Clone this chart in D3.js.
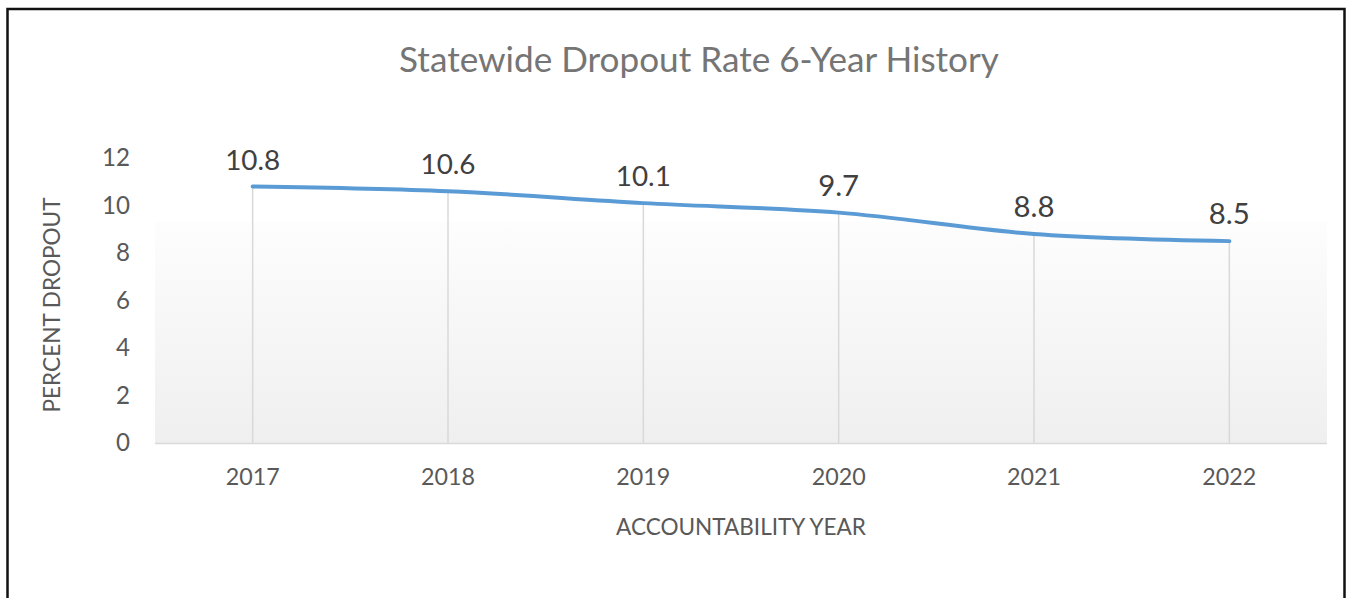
<!DOCTYPE html>
<html>
<head>
<meta charset="utf-8">
<script src="https://cdn.jsdelivr.net/npm/d3@7"></script>
<style>
  html, body { margin: 0; padding: 0; background: #fff; }
  svg { display: block; font-family: Lato, "Open Sans", sans-serif; }
</style>
</head>
<body>
<div id="chart"></div>
<script>
// chart data
const years = ["2017", "2018", "2019", "2020", "2021", "2022"];
const dropoutRates = [10.8, 10.6, 10.1, 9.7, 8.8, 8.5];
const yTicks = [0, 2, 4, 6, 8, 10, 12];
const chartTitle = "Statewide Dropout Rate 6-Year History";
const xTitle = "ACCOUNTABILITY YEAR";
const yTitle = "PERCENT DROPOUT";

const width = 1347, height = 598;
const plot = { left: 155, right: 1327, top: 158, bottom: 443 };

const svg = d3.select("#chart").append("svg")
  .attr("width", width)
  .attr("height", height);

// fit text to a target width by adjusting font size
function fitText(sel, targetWidth) {
  const node = sel.node();
  const fs = parseFloat(sel.attr("font-size"));
  const w = node.getComputedTextLength();
  if (w > 0) sel.attr("font-size", (fs * targetWidth / w).toFixed(2));
  return sel;
}

// outer frame
svg.append("rect")
  .attr("x", 7.5).attr("y", 9)
  .attr("width", 1337).attr("height", 600)
  .attr("fill", "none")
  .attr("stroke", "#111")
  .attr("stroke-width", 2.5);

const x = d3.scaleBand()
  .domain(years)
  .range([plot.left, plot.right])
  .padding(0);

const y = d3.scaleLinear()
  .domain([0, 12])
  .range([plot.bottom, plot.top]);

// plot area gradient
const defs = svg.append("defs");
const grad = defs.append("linearGradient")
  .attr("id", "plotGrad")
  .attr("x1", 0).attr("y1", 0).attr("x2", 0).attr("y2", 1);
grad.append("stop").attr("offset", "0%").attr("stop-color", "#fdfdfd");
grad.append("stop").attr("offset", "100%").attr("stop-color", "#efefef");

svg.append("rect")
  .attr("x", plot.left)
  .attr("y", 222)
  .attr("width", plot.right - plot.left)
  .attr("height", plot.bottom - 222)
  .attr("fill", "url(#plotGrad)");

const cx = d => x(d) + x.bandwidth() / 2;

// drop lines
svg.append("g")
  .selectAll("line")
  .data(years)
  .join("line")
  .attr("x1", d => cx(d)).attr("x2", d => cx(d))
  .attr("y1", (d, i) => y(dropoutRates[i]))
  .attr("y2", y(0))
  .attr("stroke", "#d9d9d9")
  .attr("stroke-width", 1.5);

// x axis line
svg.append("line")
  .attr("x1", plot.left).attr("x2", plot.right)
  .attr("y1", y(0) + 0.5).attr("y2", y(0) + 0.5)
  .attr("stroke", "#d9d9d9")
  .attr("stroke-width", 1.5);

// series line
const line = d3.line()
  .x(d => cx(d.year))
  .y(d => y(d.value))
  .curve(d3.curveCatmullRom.alpha(0.5));

const series = years.map((yr, i) => ({ year: yr, value: dropoutRates[i] }));

svg.append("path")
  .datum(series)
  .attr("d", line)
  .attr("fill", "none")
  .attr("stroke", "#5b9bd5")
  .attr("stroke-width", 4)
  .attr("stroke-linecap", "round");

// data labels
svg.append("g")
  .selectAll("text")
  .data(series)
  .join("text")
  .attr("x", d => cx(d.year))
  .attr("y", d => y(d.value) - 17)
  .attr("text-anchor", "middle")
  .attr("font-size", 26)
  .attr("fill", "#404040")
  .text(d => d.value.toFixed(1))
  .each(function(d) {
    fitText(d3.select(this), d.value >= 10 ? 55 : 41);
  });

// y tick labels, sized so "12" spans about 28px
const yTickGroup = svg.append("g");
const probe = fitText(yTickGroup.append("text").attr("font-size", 20).text("12"), 28);
const yTickSize = probe.attr("font-size");
probe.remove();

yTickGroup.selectAll("text")
  .data(yTicks)
  .join("text")
  .attr("x", 130)
  .attr("y", d => y(d))
  .attr("dy", "0.35em")
  .attr("text-anchor", "end")
  .attr("font-size", yTickSize)
  .attr("fill", "#595959")
  .text(d => d);

// x tick labels
svg.append("g")
  .selectAll("text")
  .data(years)
  .join("text")
  .attr("x", d => cx(d))
  .attr("y", 477)
  .attr("dy", "0.35em")
  .attr("text-anchor", "middle")
  .attr("font-size", 20)
  .attr("fill", "#595959")
  .text(d => d)
  .each(function() { fitText(d3.select(this), 54); });

// axis titles
fitText(svg.append("text")
  .attr("x", (plot.left + plot.right) / 2)
  .attr("y", 527)
  .attr("dy", "0.35em")
  .attr("text-anchor", "middle")
  .attr("font-size", 20)
  .attr("fill", "#595959")
  .text(xTitle), 250);

fitText(svg.append("text")
  .attr("transform", "translate(52,305) rotate(-90)")
  .attr("dy", "0.35em")
  .attr("text-anchor", "middle")
  .attr("font-size", 20)
  .attr("fill", "#595959")
  .text(yTitle), 215);

// title
fitText(svg.append("text")
  .attr("x", 699)
  .attr("y", 60)
  .attr("dy", "0.35em")
  .attr("text-anchor", "middle")
  .attr("font-size", 32)
  .attr("fill", "#757575")
  .text(chartTitle), 600);
</script>
</body>
</html>
